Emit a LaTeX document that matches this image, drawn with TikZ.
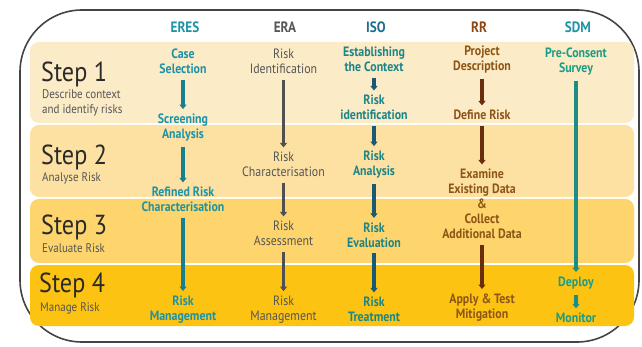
\documentclass[tikz,border=0pt]{standalone}
\usepackage{fontspec}
\setmainfont{PT Sans}[FakeStretch=0.88]
\usetikzlibrary{arrows.meta}

\definecolor{bandA}{HTML}{FBEBC6}
\definecolor{bandB}{HTML}{FCE1A2}
\definecolor{bandC}{HTML}{FDD56C}
\definecolor{bandD}{HTML}{FCC312}
\definecolor{eresC}{HTML}{1E93A6}
\definecolor{eresA}{HTML}{187F8E}
\definecolor{eraC}{HTML}{555555}
\definecolor{eraA}{HTML}{505050}
\definecolor{isoH}{HTML}{1D6E92}
\definecolor{isoC}{HTML}{1D8588}
\definecolor{isoA}{HTML}{1B5874}
\definecolor{rrH}{HTML}{8A4A18}
\definecolor{rrC}{HTML}{8E5616}
\definecolor{rrA}{HTML}{6A2E0E}
\definecolor{sdmC}{HTML}{1C9C86}
\definecolor{sdmA}{HTML}{1E8E84}
\definecolor{frameC}{HTML}{444444}
\definecolor{stepC}{HTML}{2A2A2A}
\definecolor{subC}{HTML}{555555}

\tikzset{
  band/.style={draw=none, rounded corners=9pt},
  head/.style={font=\fontsize{15}{17}\selectfont\bfseries, inner sep=0pt},
  item/.style={font=\fontsize{13.5}{15}\selectfont\bfseries, align=center, inner sep=2.5pt},
  steplabel/.style={font=\fontsize{27.5}{30}\selectfont, text=stepC, anchor=base west, inner sep=0pt},
  stepsub/.style={font=\fontsize{12.5}{15}\selectfont, text=subC, anchor=base west, inner sep=0pt},
  flow/.style={line width=3.3pt, -{Triangle[width=7pt,length=4.5pt]}, shorten <=3pt, shorten >=2pt},
}

\begin{document}
\begin{tikzpicture}[x=1pt, y=-1pt]
\useasboundingbox (0,0) rectangle (642,347);
\fill[white] (0,0) rectangle (642,347);

% outer frame
\draw[frameC, line width=1.6pt, rounded corners=62pt] (20,10) rectangle (639,342);

% step bands
\fill[bandA, band] (30,42) rectangle (634,123);
\fill[bandB, band] (30,125) rectangle (634,197);
\fill[bandC, band] (30,199) rectangle (634,263);
\fill[bandD, band] (30,265) rectangle (634,326);

% step labels
\node[steplabel] (s1) at (41,82) {Step 1};
\node[stepsub] (s1t) at (42,99) {Describe context};
\node[stepsub] (s1u) at (42,114) {and identify risks};
\node[steplabel] (s2) at (41,165) {Step 2};
\node[stepsub] (s2t) at (42,182) {Analyse Risk};
\node[steplabel] (s3) at (41,235) {Step 3};
\node[stepsub] (s3t) at (42,252) {Evaluate Risk};
\node[steplabel] (s4) at (39,292) {Step 4};
\node[stepsub] (s4t) at (40,311) {Manage Risk};

% column headers
\node[head, text=eresC] (hE) at (185,27) {ERES};
\node[head, text=eraC] (hR) at (285,27) {ERA};
\node[head, text=isoH] (hI) at (376,27) {ISO};
\node[head, text=rrH] (hRR) at (479,27) {RR};
\node[head, text=eresC] (hS) at (578,27) {SDM};

% ERES
\begin{scope}[every node/.style={item, text=eresC}]
\node (e1) at (183,61.5) {Case\\Selection};
\node (e2) at (183,127.5) {Screening\\Analysis};
\node (e3) at (183,199.5) {Refined Risk\\Characterisation};
\node (e4) at (183,309.5) {Risk\\Management};
\end{scope}
\draw[flow, eresA] (e1) -- (e2);
\draw[flow, eresA] (e2) -- (e3);
\draw[flow, eresA] (e3) -- (e4);

% ERA
\begin{scope}[every node/.style={item, text=eraC, font=\fontsize{13.5}{15}\selectfont}]
\node (r1) at (283.5,61.5) {Risk\\Identification};
\node (r2) at (283.5,164.5) {Risk\\Characterisation};
\node (r3) at (283.5,233.5) {Risk\\Assessment};
\node (r4) at (283.5,309.5) {Risk\\Management};
\end{scope}
\draw[flow, eraA] (r1) -- (r2);
\draw[flow, eraA] (r2) -- (r3);
\draw[flow, eraA] (r3) -- (r4);

% ISO
\begin{scope}[every node/.style={item, text=isoC}]
\node (i1) at (374,59.5) {Establishing\\the Context};
\node (i2) at (374,107.5) {Risk\\identification};
\node (i3) at (374,164.5) {Risk\\Analysis};
\node (i4) at (374,235) {Risk\\Evaluation};
\node (i5) at (374,309.5) {Risk\\Treatment};
\end{scope}
\draw[flow, isoA] (i1) -- (i2);
\draw[flow, isoA] (i2) -- (i3);
\draw[flow, isoA] (i3) -- (i4);
\draw[flow, isoA] (i4) -- (i5);

% RR
\begin{scope}[every node/.style={item, text=rrC}]
\node (p1) at (482,60) {Project\\Description};
\node (p2) at (482,115) {Define Risk};
\node (p3) at (482,204) {Examine\\Existing Data\\\&\\Collect\\Additional Data};
\node (p4) at (482,307.5) {Apply \& Test\\Mitigation};
\end{scope}
\draw[flow, rrA] (p1) -- (p2);
\draw[flow, rrA] (p2) -- (p3);
\draw[flow, rrA] (p3) -- (p4);

% SDM
\begin{scope}[every node/.style={item, text=sdmC}]
\node (d1) at (576,61.5) {Pre-Consent\\Survey};
\node (d2) at (576,283) {Deploy};
\node (d3) at (576,318) {Monitor};
\end{scope}
\draw[flow, sdmA] (d1) -- (d2);
\draw[flow, sdmA] (d2) -- (d3);
\end{tikzpicture}
\end{document}
